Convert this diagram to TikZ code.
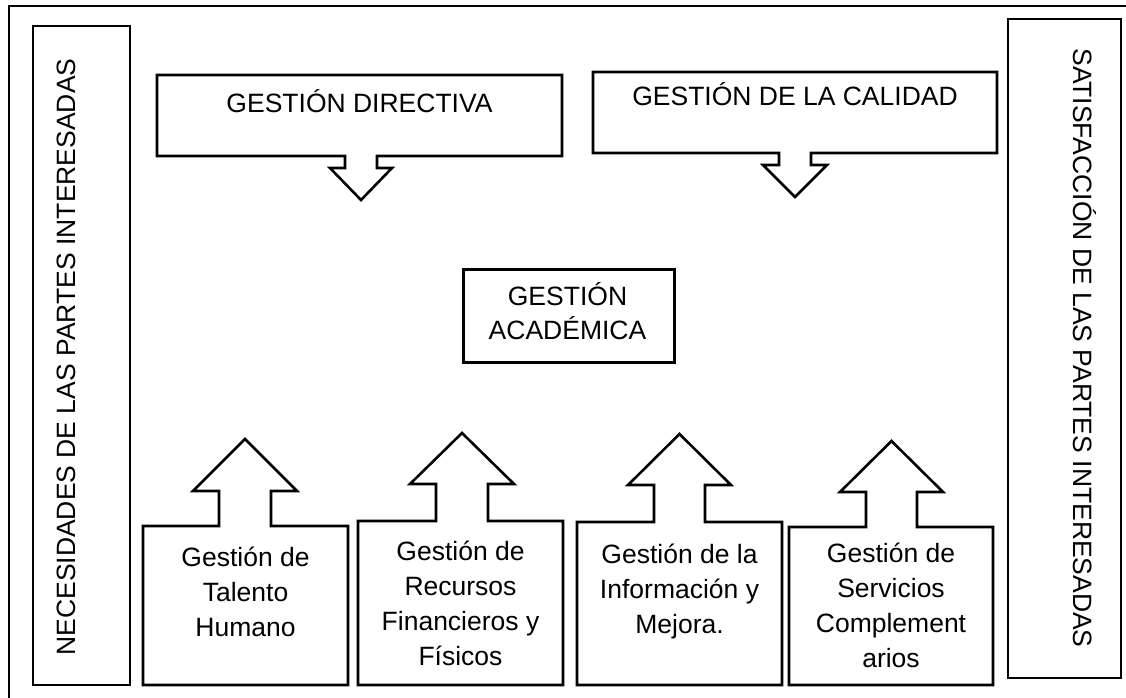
\documentclass[tikz,border=0pt]{standalone}
\usepackage{fontspec}
\setmainfont{Liberation Sans}
\begin{document}
\begin{tikzpicture}[x=1pt,y=-1pt,
  outline/.style={draw=black, line width=2.6pt, line join=miter},
  frameline/.style={draw=black, line width=2.8pt},
  lbl/.style={font=\fontsize{26.5}{35}\selectfont, inner sep=0pt, align=center, text=black},
  lblacad/.style={font=\fontsize{26.5}{34}\selectfont, inner sep=0pt, align=center, text=black},
]
\useasboundingbox (0,0) rectangle (1126,697);

% outer frame (right and bottom edges lie outside the picture)
\coordinate (frbl) at (9,702);
\coordinate (frtl) at (9,6);
\coordinate (frtr) at (1132,6);
\draw[frameline] (frbl) -- (frtl) -- (frtr);

% side boxes
\draw[outline] (33,26) rectangle (130,685);
\node[lbl, rotate=90, anchor=base] (necesidades) at (75,357) {NECESIDADES DE LAS PARTES INTERESADAS};
\draw[outline] (1008,19) rectangle (1121,678);
\node[lbl, rotate=-90, anchor=base] (satisfaccion) at (1073,348) {SATISFACCIÓN DE LAS PARTES INTERESADAS};

% top callouts (arrow pointing down)
\draw[outline] (157,75) -- (562,75) -- (562,156) -- (377,156) -- (377,168) -- (392,168)
  -- (361,200) -- (330,168) -- (345,168) -- (345,156) -- (157,156) -- cycle;
\node[lbl, anchor=base] (directiva) at (359.5,112) {GESTIÓN DIRECTIVA};

\draw[outline] (593,72) -- (997,72) -- (997,153) -- (811,153) -- (811,165) -- (827,165)
  -- (795,197) -- (763,165) -- (779,165) -- (779,153) -- (593,153) -- cycle;
\node[lbl, anchor=base] (calidad) at (795,105) {GESTIÓN DE LA CALIDAD};

% central box
\node[outline, minimum width=211, minimum height=93, inner sep=0pt, anchor=north west] (academicabox) at (462,268) {};
\node[lblacad, anchor=base] (academica) at (567.5,339) {GESTIÓN\\ACADÉMICA};

% bottom callouts (arrow pointing up)
\draw[outline] (143,526) -- (219,526) -- (219,491) -- (193,491) -- (245,439) -- (297,491)
  -- (271,491) -- (271,526) -- (348,526) -- (348,685) -- (143,685) -- cycle;
\node[lbl, anchor=base] (talento) at (245.5,636) {Gestión de\\Talento\\Humano};

\draw[outline] (358,521) -- (436,521) -- (436,484) -- (410,484) -- (462,433) -- (514,484)
  -- (488,484) -- (488,521) -- (563,521) -- (563,685) -- (358,685) -- cycle;
\node[lbl, anchor=base] (recursos) at (460.5,665) {Gestión de\\Recursos\\Financieros y\\Físicos};

\draw[outline] (577,522) -- (654,522) -- (654,485) -- (628,485) -- (679.5,434) -- (731,485)
  -- (705,485) -- (705,522) -- (782,522) -- (782,685) -- (577,685) -- cycle;
\node[lbl, anchor=base] (informacion) at (679.5,633) {Gestión de la\\Información y\\Mejora.};

\draw[outline] (789,527) -- (866,527) -- (866,492) -- (840,492) -- (891.5,441) -- (943,492)
  -- (917,492) -- (917,527) -- (993,527) -- (993,685) -- (789,685) -- cycle;
\node[lbl, anchor=base] (servicios) at (891,667) {Gestión de\\Servicios\\Complement\\arios};
\end{tikzpicture}
\end{document}
